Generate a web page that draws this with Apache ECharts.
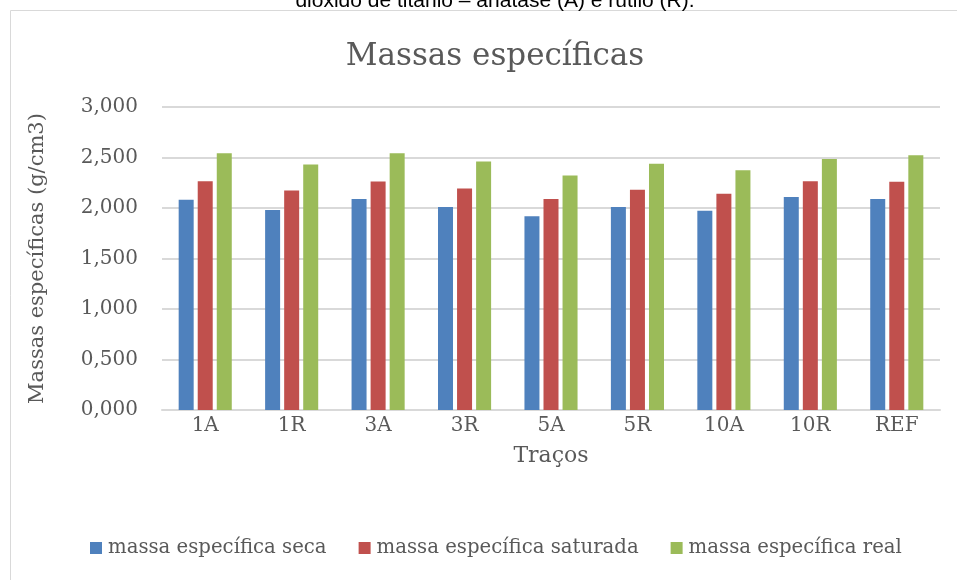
<!DOCTYPE html>
<html>
<head>
<meta charset="utf-8">
<script src="https://cdn.jsdelivr.net/npm/echarts@6/dist/echarts.min.js"></script>
<style>
  html, body { margin: 0; padding: 0; background: #fff; }
  #chart { width: 957px; height: 580px; }
</style>
</head>
<body>
<div id="chart"></div>
<script>
// dados
const tracos = ['1A', '1R', '3A', '3R', '5A', '5R', '10A', '10R', 'REF']
const massaSeca = [2082, 1980, 2089, 2010, 1918, 2010, 1974, 2109, 2089]
const massaSaturada = [2266, 2174, 2263, 2194, 2089, 2181, 2141, 2266, 2260]
const massaReal = [2543, 2431, 2543, 2461, 2322, 2437, 2375, 2484, 2523]
const nomesSeries = ['massa específica seca', 'massa específica saturada', 'massa específica real']

const serif = '"DejaVu Serif", serif'
const cinza = '#595959'

const chart = echarts.init(document.getElementById('chart'))

// rótulos no formato 2,500
function fmt(v) {
  return (v / 1000).toFixed(3).replace('.', ',')
}

const option = {
  animation: false,
  color: ['#4f81bd', '#c0504d', '#9bbb59'],
  title: [
    {
      text: 'dióxido de titânio – anatase (A) e rutilo (R).',
      left: 490,
      textAlign: 'center',
      top: -14,
      textStyle: { fontFamily: '"Liberation Sans", sans-serif', fontSize: 21, fontWeight: 'normal', color: '#000' }
    },
    {
      text: 'Massas específicas',
      left: 490,
      textAlign: 'center',
      top: 36,
      textStyle: { fontFamily: serif, fontSize: 31, fontWeight: 'normal', color: cinza }
    }
  ],
  graphic: [
    {
      type: 'rect',
      shape: { x: 10.5, y: 10.5, width: 960, height: 600 },
      style: { fill: 'none', stroke: '#d9d9d9', lineWidth: 1 },
      silent: true
    }
  ],
  legend: {
    bottom: 17,
    left: 85,
    itemWidth: 12,
    itemHeight: 12,
    itemGap: 32,
    icon: 'rect',
    textStyle: { fontFamily: serif, fontSize: 19.7, color: cinza, padding: [0, 0, 0, 1] },
    data: nomesSeries
  },
  grid: { left: 162, right: 17, top: 107, bottom: 170 },
  xAxis: {
    type: 'category',
    data: tracos,
    name: 'Traços',
    nameLocation: 'middle',
    nameGap: 35,
    nameTextStyle: { fontFamily: serif, fontSize: 22, color: cinza },
    axisLine: { lineStyle: { color: '#d9d9d9', width: 2 } },
    axisTick: { show: false },
    axisLabel: { fontFamily: serif, fontSize: 20, color: cinza, margin: 6 }
  },
  yAxis: {
    type: 'value',
    min: 0,
    max: 3000,
    interval: 500,
    name: 'Massas específicas (g/cm3)',
    nameLocation: 'middle',
    nameGap: 114,
    nameTextStyle: { fontFamily: serif, fontSize: 21, color: cinza },
    axisLine: { show: false },
    axisTick: { show: false },
    axisLabel: { fontFamily: serif, fontSize: 20, color: cinza, margin: 24, formatter: fmt },
    splitLine: { lineStyle: { color: '#d9d9d9', width: 2 } }
  },
  series: [
    { name: nomesSeries[0], type: 'bar', data: massaSeca, barWidth: 15, barGap: '27%' },
    { name: nomesSeries[1], type: 'bar', data: massaSaturada, barWidth: 15, barGap: '27%' },
    { name: nomesSeries[2], type: 'bar', data: massaReal, barWidth: 15, barGap: '27%' }
  ]
}

chart.setOption(option)
window.addEventListener('resize', () => chart.resize())
</script>
</body>
</html>
